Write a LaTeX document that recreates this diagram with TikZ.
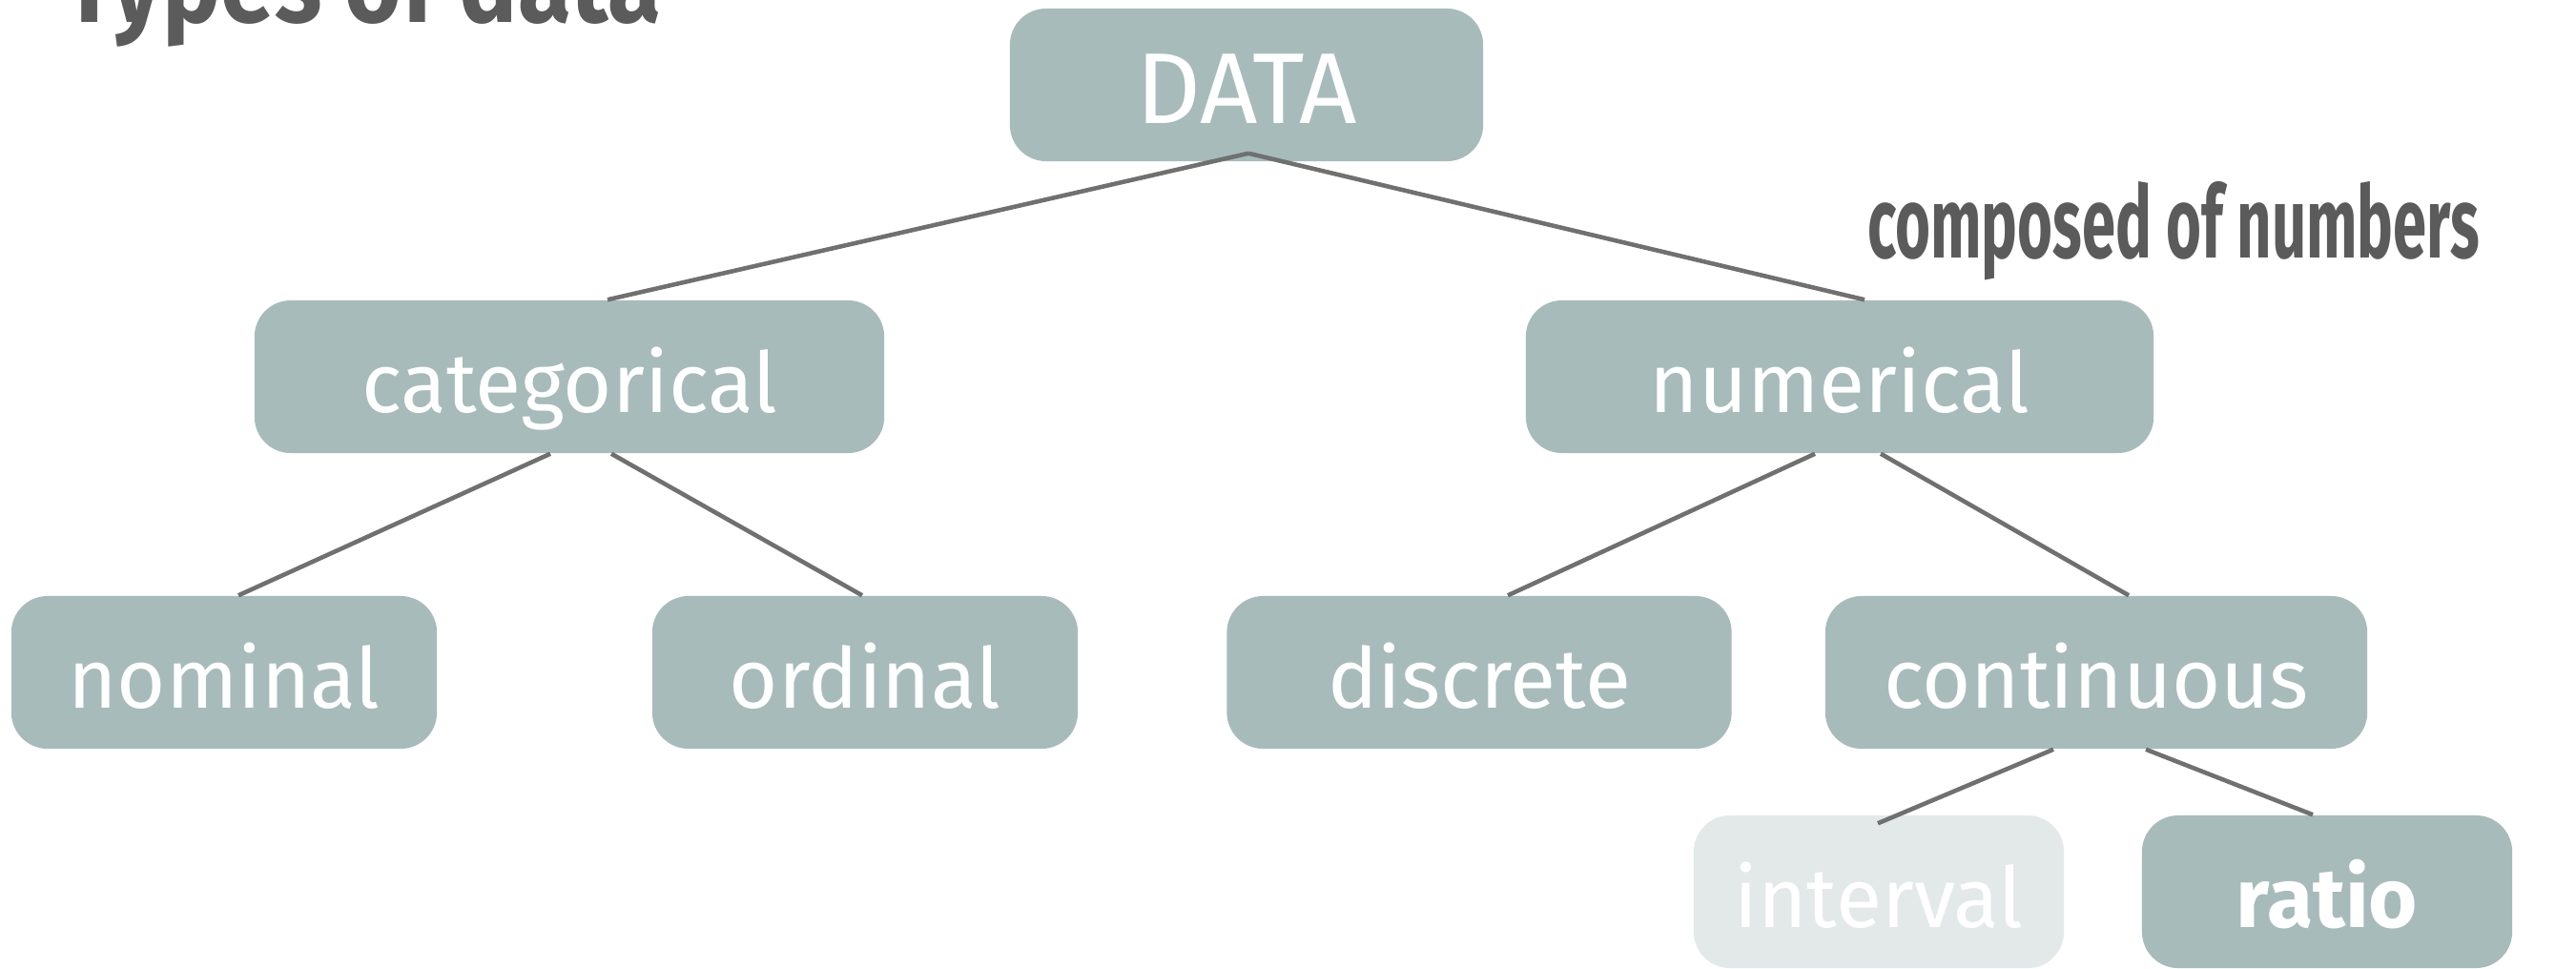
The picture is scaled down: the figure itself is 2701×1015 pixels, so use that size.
\documentclass[tikz,border=0pt]{standalone}
\usepackage{fontspec}
\setmainfont{Fira Sans}
\usetikzlibrary{calc}
\definecolor{boxfill}{HTML}{A7BBBB}
\definecolor{ghostfill}{HTML}{E3E9E9}
\definecolor{linegray}{HTML}{707070}
\definecolor{titlegray}{HTML}{5B5B5B}
\tikzset{
  box/.style={fill=boxfill, rounded corners=0.38cm, text=white, inner sep=0pt,
    minimum height=1.6cm, text height=0.9cm, text depth=0.16cm,
    font=\fontsize{25}{29}\selectfont},
  ghost/.style={box, fill=ghostfill},
  conn/.style={draw=linegray, line width=1.3pt},
}
\begin{document}
\begin{tikzpicture}[x=0.01cm, y=-0.01cm]
\useasboundingbox (0,0) rectangle (2701,1015);
% title (cut off at top)
\node[anchor=base west, inner sep=0pt, text=titlegray] (title) at (66,24)
  {\scalebox{0.88}[1]{\fontsize{33}{37}\selectfont\bfseries Types of data}};
% nodes
\node[box, minimum width=4.96cm, text height=0.96cm, font=\fontsize{30}{34}\selectfont] (data) at (1307,89) {DATA};
\node[box, minimum width=6.6cm] (cat) at (597,395) {categorical};
\node[box, minimum width=6.58cm] (num) at (1929,395) {numerical};
\node[box, minimum width=4.46cm] (nom) at (235,705) {nominal};
\node[box, minimum width=4.46cm] (ord) at (907,705) {ordinal};
\node[box, minimum width=5.29cm] (dis) at (1551,705) {discrete};
\node[box, minimum width=5.68cm] (con) at (2198,705) {continuous};
\node[ghost, minimum width=3.88cm] (int) at (1970,935) {interval};
\node[box, minimum width=3.88cm, font=\fontsize{25}{29}\selectfont\bfseries] (rat) at (2440,935) {ratio};
\node[anchor=base, inner sep=0pt, text=titlegray] (note) at (2279,270)
  {\scalebox{0.6}[1]{\fontsize{30}{34}\selectfont\bfseries composed of numbers}};
% connectors
\draw[conn] ($(data.south)+(2,-9)$) -- ($(cat.north)+(40,0)$);
\draw[conn] ($(data.south)+(2,-9)$) -- ($(num.north)+(26,0)$);
\draw[conn] ($(cat.south)+(-20,0)$) -- ($(nom.north)+(15,0)$);
\draw[conn] ($(cat.south)+(44,0)$) -- ($(ord.north)+(-3,0)$);
\draw[conn] ($(num.south)+(-26,0)$) -- ($(dis.north)+(30,0)$);
\draw[conn] ($(num.south)+(43,0)$) -- ($(con.north)+(34,0)$);
\draw[conn] ($(con.south)+(-45,0)$) -- ($(int.north)+(-1,9)$);
\draw[conn] ($(con.south)+(52,0)$) -- ($(rat.north)+(-15,0)$);
\end{tikzpicture}
\end{document}
